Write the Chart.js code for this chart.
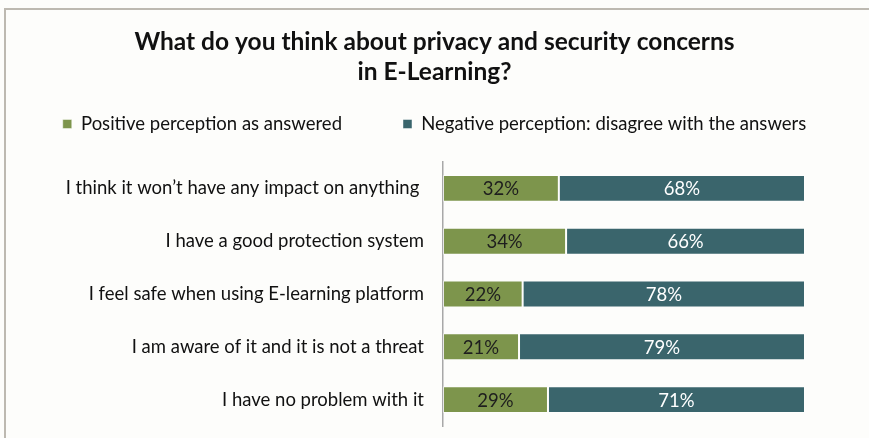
<!DOCTYPE html>
<html>
<head>
<meta charset="utf-8">
<script src="https://cdn.jsdelivr.net/npm/chart.js@4.4.1/dist/chart.umd.min.js"></script>
<style>
  html, body { margin: 0; padding: 0; background: #fdfdfb; }
  #wrap { position: relative; width: 869px; height: 438px; }
  #frame { position: absolute; left: 4px; top: 8px; right: 0; bottom: 0;
           border-top: 2px solid #bdb9b1; border-left: 2px solid #bdb9b1; }
  canvas { position: absolute; left: 0; top: 0; }
</style>
</head>
<body>
<div id="wrap">
  <div id="frame"></div>
  <canvas id="barChart" width="869" height="438"></canvas>
</div>
<script>
var statements = [
    'I think it won\u2019t have any impact on anything ',
    'I have a good protection system',
    'I feel safe when using E-learning platform',
    'I am aware of it and it is not a threat',
    'I have no problem with it'
];
var positive = [32, 34, 22, 21, 29];
var negative = [68, 66, 78, 79, 71];
var seriesNames = ['Positive perception as answered', 'Negative perception: disagree with the answers'];

var fontFamily = 'Lato, "Open Sans", sans-serif';

// writes the % value in the middle of each bar segment
var barLabels = {
    id: 'barLabels',
    afterDatasetsDraw: function (chart) {
        var ctx = chart.ctx;
        ctx.save();
        ctx.font = '18.5px ' + fontFamily;
        ctx.textAlign = 'center';
        ctx.textBaseline = 'middle';
        chart.data.datasets.forEach(function (ds, i) {
            ctx.fillStyle = i === 0 ? '#1e1e1e' : '#ffffff';
            chart.getDatasetMeta(i).data.forEach(function (bar, j) {
                var x = (bar.x + bar.base) / 2;
                ctx.fillText(ds.data[j] + '%', x, bar.y + 1);
            });
        });
        ctx.restore();
    }
};

var ctx = document.getElementById('barChart').getContext('2d');
var myChart = new Chart(ctx, {
    type: 'bar',
    data: {
        labels: statements,
        datasets: [{
            label: seriesNames[0],
            data: positive,
            backgroundColor: '#7d954c',
            borderColor: 'rgba(255,255,255,0.45)',
            borderWidth: 1,
            borderSkipped: false
        }, {
            label: seriesNames[1],
            data: negative,
            backgroundColor: '#3a656c',
            borderColor: 'rgba(255,255,255,0.45)',
            borderWidth: 1,
            borderSkipped: false
        }]
    },
    options: {
        indexAxis: 'y',
        responsive: false,
        animation: false,
        layout: { padding: { top: 0, right: 0, bottom: 12, left: 0 } },
        datasets: {
            bar: { categoryPercentage: 1, barPercentage: 0.51 }
        },
        plugins: {
            title: {
                display: true,
                text: ['What do you think about privacy and security concerns', 'in E-Learning?'],
                color: '#111',
                font: { family: fontFamily, size: 24.5, weight: 'bold', lineHeight: '30px' },
                padding: { top: 27, bottom: -33.25 }
            },
            legend: {
                display: true,
                labels: {
                    color: '#111',
                    font: { family: fontFamily, size: 18.5 },
                    boxWidth: 9,
                    boxHeight: 9,
                    padding: 61
                }
            },
            tooltip: { enabled: false }
        },
        scales: {
            x: {
                stacked: true,
                position: 'top',
                min: 0,
                max: 100,
                ticks: { display: false },
                grid: { display: false },
                border: { display: false },
                afterFit: function (scale) { scale.height = 18.75; }
            },
            y: {
                stacked: true,
                ticks: {
                    color: '#111',
                    font: { family: fontFamily, size: 18.5 },
                    padding: 0
                },
                grid: { display: false, drawTicks: true, tickLength: 19 },
                border: { display: true, color: '#a8a8a8', width: 1.5 },
                afterFit: function (scale) { scale.width = 443; }
            },
            // empty space on the right of the bars
            yRight: {
                type: 'linear',
                axis: 'y',
                position: 'right',
                ticks: { display: false },
                grid: { display: false },
                border: { display: false },
                afterFit: function (scale) { scale.width = 64; }
            }
        }
    },
    plugins: [barLabels]
});
</script>
</body>
</html>
